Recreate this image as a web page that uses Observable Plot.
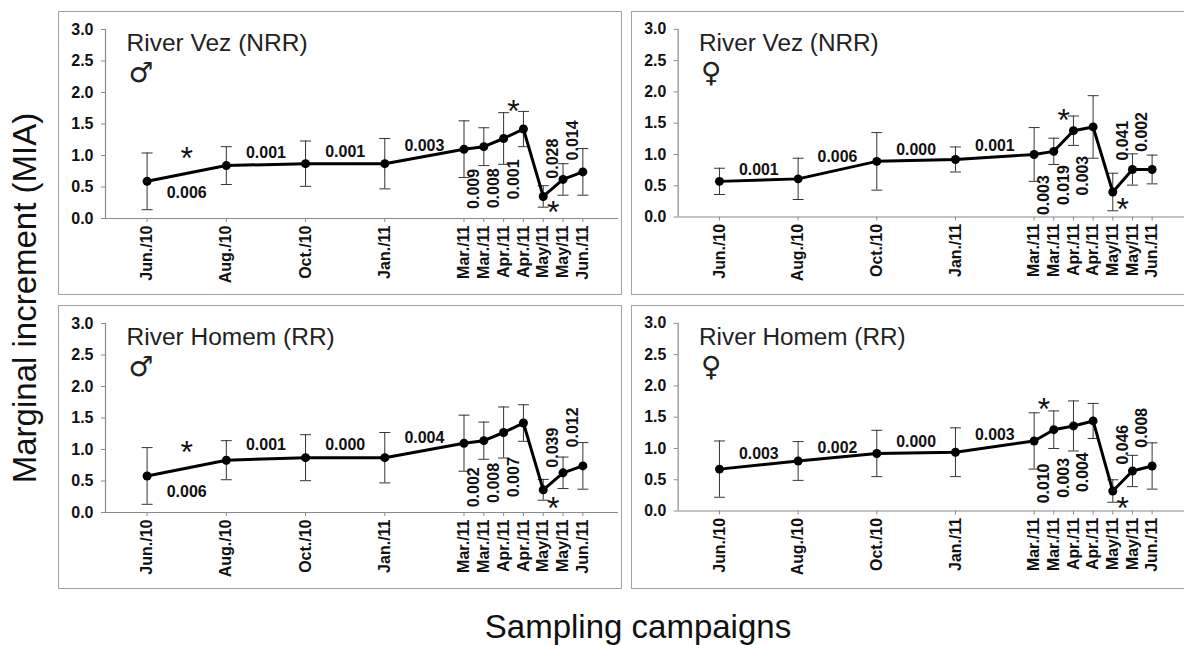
<!DOCTYPE html>
<html><head><meta charset="utf-8">
<script src="https://cdn.jsdelivr.net/npm/d3@7"></script>
<script src="https://cdn.jsdelivr.net/npm/@observablehq/plot@0.6"></script>
<style>
body{margin:0;background:#fff;font-family:"Liberation Sans",Arial,sans-serif;}
#fig{position:relative;width:1184px;height:645px;overflow:hidden;background:#fff;}
.panel{position:absolute;}
.border{position:absolute;left:0;top:0;right:0;bottom:0;border:1.5px solid #a3a3a3;pointer-events:none;box-sizing:border-box;}
.ytitle{position:absolute;left:25px;top:298px;transform:translate(-50%,-50%) rotate(-90deg);font-size:33px;white-space:nowrap;color:#111;}
.xtitle{position:absolute;left:638px;top:608px;transform:translateX(-50%);font-size:33px;white-space:nowrap;color:#111;}
</style></head>
<body><div id="fig"></div>
<script>
// Sampling campaigns (category axis) and their slot on the axis (gap before March 2011)
const campaigns = ["Jun./10","Aug./10","Oct./10","Jan./11","Mar./11","Mar./11","Apr./11","Apr./11","May/11","May/11","Jun./11"];
const slot = [0, 4, 8, 12, 16, 17, 18, 19, 20, 21, 22];
const yTicks = [0, 0.5, 1, 1.5, 2, 2.5, 3];

// River Vez (NRR) males
const vezMaleMean = [0.59, 0.84, 0.87, 0.87, 1.10, 1.14, 1.27, 1.42, 0.35, 0.62, 0.74];
const vezMaleSD   = [0.45, 0.30, 0.36, 0.40, 0.45, 0.30, 0.41, 0.28, 0.17, 0.25, 0.37];
const vezMaleP    = ["0.006","0.001","0.001","0.003","0.009","0.008","0.001",null,"0.028","0.014"];
const vezMalePY   = [0.40, 1.04, 1.05, 1.16, 0.47, 0.48, 0.62, null, 0.95, 1.24];
const vezMaleStars = [[0, 1.08], [6, 1.82], [8, 0.22]];

// River Vez (NRR) females
const vezFemMean = [0.57, 0.61, 0.89, 0.92, 1.00, 1.05, 1.38, 1.44, 0.40, 0.76, 0.76];
const vezFemSD   = [0.21, 0.33, 0.46, 0.20, 0.43, 0.21, 0.235, 0.50, 0.30, 0.25, 0.23];
const vezFemP    = ["0.001","0.006","0.000","0.001","0.003","0.019","0.003",null,"0.041","0.002"];
const vezFemPY   = [0.75, 0.96, 1.07, 1.14, 0.35, 0.51, 0.66, null, 1.22, 1.36];
const vezFemStars = [[5, 1.66], [8, 0.24]];

// River Homem (RR) males
const homMaleMean = [0.58, 0.83, 0.87, 0.87, 1.10, 1.14, 1.27, 1.42, 0.36, 0.63, 0.74];
const homMaleSD   = [0.45, 0.31, 0.365, 0.40, 0.445, 0.295, 0.405, 0.29, 0.165, 0.25, 0.37];
const homMaleP    = ["0.006","0.001","0.000","0.004","0.002","0.008","0.007",null,"0.039","0.012"];
const homMalePY   = [0.32, 1.07, 1.07, 1.19, 0.40, 0.47, 0.56, null, 1.03, 1.35];
const homMaleStars = [[0, 1.08], [8, 0.19]];

// River Homem (RR) females
const homFemMean = [0.67, 0.80, 0.92, 0.94, 1.12, 1.30, 1.36, 1.44, 0.32, 0.64, 0.72];
const homFemSD   = [0.45, 0.31, 0.37, 0.39, 0.45, 0.30, 0.40, 0.28, 0.18, 0.25, 0.37];
const homFemP    = ["0.003","0.002","0.000","0.003","0.010","0.003","0.004",null,"0.046","0.008"];
const homFemPY   = [0.91, 1.01, 1.10, 1.22, 0.44, 0.53, 0.62, null, 1.06, 1.33];
const homFemStars = [[4, 1.75], [8, 0.17]];

const FONT = "'Liberation Sans', Arial, sans-serif";
const cap = {draw(ctx, size){ const w = Math.sqrt(size / Math.PI); ctx.moveTo(-w, 0); ctx.lineTo(w, 0); }};

function makePanel(title, sex, mean, sd, pv, py, stars) {
  const pts = campaigns.map((c, i) => ({x: slot[i], y: mean[i], lo: mean[i] - sd[i], hi: mean[i] + sd[i]}));
  const labels = [];
  pv.forEach((p, i) => { if (p != null) labels.push({x: (slot[i] + slot[i + 1]) / 2, y: py[i], text: p, rot: i >= 4}); });
  const starPts = stars.map(([s, y]) => ({x: (slot[s] + slot[s + 1]) / 2, y}));
  const xmin = -2.1, xmax = 23.8;
  return Plot.plot({
    width: 564, height: 284,
    marginLeft: 47, marginRight: 4, marginTop: 18, marginBottom: 77,
    x: {domain: [xmin, xmax], label: null},
    y: {domain: [0, 3], label: null},
    style: {fontFamily: FONT, background: "transparent", overflow: "visible"},
    marks: [
      Plot.axisY({ticks: yTicks, tickFormat: d => d.toFixed(1), tickSize: 4, tickPadding: 8, fontSize: 16, fontWeight: "bold", stroke: "#8a8a8a", fill: "#111", label: null}),
      Plot.axisX({ticks: slot, tickFormat: d => campaigns[slot.indexOf(d)], tickRotate: -90, tickSize: 4, tickPadding: 3, fontSize: 16, fontWeight: "bold", stroke: "#8a8a8a", fill: "#111", label: null}),
      Plot.ruleY([0], {x1: xmin, x2: xmax, stroke: "#8a8a8a", strokeWidth: 1.2}),
      Plot.ruleX([xmin], {y1: 0, y2: 3, stroke: "#8a8a8a", strokeWidth: 1.2}),
      Plot.ruleX(pts, {x: "x", y1: "lo", y2: "hi", stroke: "#333", strokeWidth: 1}),
      Plot.dot(pts, {x: "x", y: "hi", symbol: cap, r: 5.5, stroke: "#333", strokeWidth: 1}),
      Plot.dot(pts, {x: "x", y: "lo", symbol: cap, r: 5.5, stroke: "#333", strokeWidth: 1}),
      Plot.line(pts, {x: "x", y: "y", stroke: "#000", strokeWidth: 3}),
      Plot.dot(pts, {x: "x", y: "y", r: 4.5, fill: "#000"}),
      Plot.text(labels.filter(d => !d.rot), {x: "x", y: "y", text: "text", fontSize: 16, fontWeight: "bold", fill: "#111"}),
      Plot.text(labels.filter(d => d.rot), {x: "x", y: "y", text: "text", rotate: -90, fontSize: 16, fontWeight: "bold", fill: "#111"}),
      Plot.text(starPts, {x: "x", y: "y", text: () => "*", fontSize: 32, dy: 8, fill: "#111"}),
      Plot.text([title], {frameAnchor: "top-left", dx: 21, dy: 14, textAnchor: "start", lineAnchor: "middle", fontSize: 24.5, fill: "#222"}),
      Plot.text([sex], {frameAnchor: "top-left", dx: 23, dy: 44, textAnchor: "start", lineAnchor: "middle", fontSize: 28, fontFamily: "DejaVu Sans", fill: "#222"})
    ]
  });
}

const fig = document.getElementById("fig");
const panels = [
  {left: 58, top: 11, w: 564, h: 284, args: ["River Vez (NRR)", "\u2642", vezMaleMean, vezMaleSD, vezMaleP, vezMalePY, vezMaleStars]},
  {left: 631, top: 11, w: 560, h: 284, args: ["River Vez (NRR)", "\u2640", vezFemMean, vezFemSD, vezFemP, vezFemPY, vezFemStars]},
  {left: 58, top: 305, w: 564, h: 284, args: ["River Homem (RR)", "\u2642", homMaleMean, homMaleSD, homMaleP, homMalePY, homMaleStars]},
  {left: 631, top: 305, w: 560, h: 284, args: ["River Homem (RR)", "\u2640", homFemMean, homFemSD, homFemP, homFemPY, homFemStars]}
];
for (const p of panels) {
  const div = document.createElement("div");
  div.className = "panel";
  div.style.left = p.left + "px"; div.style.top = p.top + "px";
  div.style.width = p.w + "px"; div.style.height = p.h + "px";
  div.appendChild(makePanel(...p.args));
  const b = document.createElement("div"); b.className = "border"; div.appendChild(b);
  fig.appendChild(div);
}
const yt = document.createElement("div"); yt.className = "ytitle"; yt.textContent = "Marginal increment (MIA)"; fig.appendChild(yt);
const xt = document.createElement("div"); xt.className = "xtitle"; xt.textContent = "Sampling campaigns"; fig.appendChild(xt);
</script>
</body></html>
